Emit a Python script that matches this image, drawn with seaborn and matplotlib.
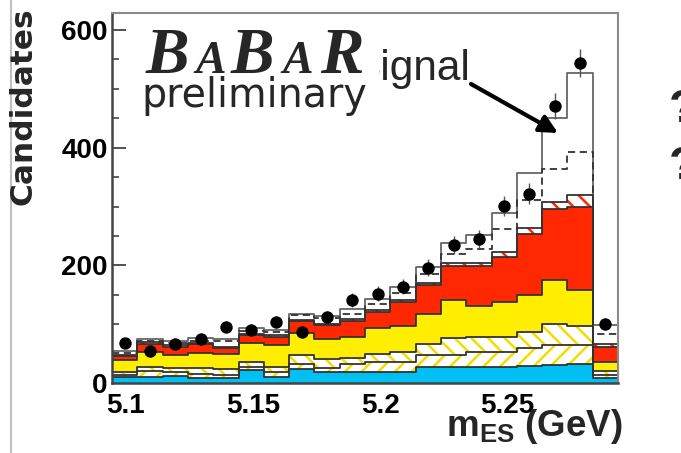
import numpy as np
import pandas as pd
import matplotlib
matplotlib.use("Agg")
import matplotlib.pyplot as plt
import seaborn as sns
from matplotlib.lines import Line2D
from matplotlib.patches import Rectangle
from matplotlib.ticker import MultipleLocator, FixedLocator

sns.set_theme(style="white")
plt.rcParams['font.family'] = ['Liberation Sans', 'DejaVu Sans']
plt.rcParams['hatch.linewidth'] = 1.8
plt.rcParams['mathtext.fontset'] = 'custom'
plt.rcParams['mathtext.bf'] = 'Liberation Sans:bold'
plt.rcParams['mathtext.rm'] = 'Liberation Sans'

# ---------------- data ----------------
n_bins = 20
x_lo, x_hi = 5.0947, 5.2933
data_counts = [68, 54, 66, 74, 96, 90, 104, 87, 112, 141,
               152, 164, 196, 234, 245, 301, 322, 471, 544, 100]
cyan_bkg   = [10, 11, 12, 8, 8, 22, 11, 23, 18, 18, 18, 18, 28, 28, 28, 28, 29, 31, 32, 9]
hatch_a    = [4, 9, 6, 7, 6, 5, 8, 9, 8, 14, 18, 18, 20, 20, 25, 25, 31, 34, 33, 5]
hatch_b    = [5, 7, 7, 10, 10, 9, 9, 16, 14, 10, 14, 16, 19, 28, 26, 26, 27, 36, 32, 6]
yellow_bkg = [20, 26, 23, 26, 26, 32, 37, 37, 35, 36, 43, 45, 51, 65, 52, 58, 63, 74, 61, 15]
red_bkg    = [7, 14, 14, 15, 10, 14, 14, 20, 23, 27, 28, 41, 49, 58, 68, 78, 103, 120, 142, 27]
red_hatch  = [2, 2, 2, 2, 2, 2, 2, 2, 2, 3, 3, 3, 3, 5, 5, 7, 10, 13, 19, 4]
dashed_bkg = [3, 2, 4, 3, 9, 4, 5, 8, 10, 9, 11, 12, 16, 15, 23, 40, 48, 55, 74, 17]
signal     = [3, 3, 4, 5, 3, 6, 4, 3, 4, 8, 7, 11, 12, 19, 24, 27, 46, 88, 134, 15]

x_major = [5.1, 5.15, 5.2, 5.25]
x_minor = [5.125, 5.175, 5.225, 5.275]
x_major_labels = ["5.1", "5.15", "5.2", "5.25"]
y_major = [0, 200, 400, 600]

# ---------------- figure ----------------
W, H = 681, 453
fig = plt.figure(figsize=(W / 100, H / 100), dpi=100)
fig.patch.set_facecolor("white")
ax = fig.add_axes([112 / W, (H - 383) / H, 506 / W, 370 / H])
ax.set_facecolor("white")

edges = np.linspace(x_lo, x_hi, n_bins + 1)
centers = 0.5 * (edges[:-1] + edges[1:])

components = [cyan_bkg, hatch_a, hatch_b, yellow_bkg, red_bkg, red_hatch, dashed_bkg, signal]
cum = np.cumsum(np.array(components, dtype=float), axis=0)

# style per cumulative layer: (facecolor, hatchcolor, hatch, line style, line color)
styles = [
    ("#00BFF3", None, None, "-", "#333333"),
    ("white", "#F5DC00", "//", "-", "#333333"),
    ("white", "#F5DC00", "\\\\", "-", "#333333"),
    ("#FFEE00", None, None, "-", "#333333"),
    ("#FF2800", None, None, "-", "#333333"),
    ("white", "#FF2800", "\\\\", "-", "#333333"),
    ("white", None, None, (0, (4, 2.5)), "#333333"),
    ("white", None, None, "-", "#666666"),
]

# draw from the top (total) down, each cumulative layer overpainting the last
for k in range(len(components) - 1, -1, -1):
    fc, hc, hatch, ls, lc = styles[k]
    df = pd.DataFrame({"mES": centers, "w": cum[k]})
    kws = dict(facecolor=fc, linewidth=0, alpha=1)
    if hatch is not None:
        kws.update(edgecolor=hc, hatch=hatch)
    else:
        kws.update(edgecolor=fc)
    sns.histplot(data=df, x="mES", weights="w", bins=n_bins, binrange=(x_lo, x_hi),
                 element="step", fill=True, ax=ax, **kws)
    sns.histplot(data=df, x="mES", weights="w", bins=n_bins, binrange=(x_lo, x_hi),
                 element="step", fill=False, ax=ax, color=lc, linewidth=1.3,
                 linestyle=ls)

# data points
data = np.array(data_counts, dtype=float)
ax.errorbar(centers, data, yerr=np.sqrt(data), fmt="none", ecolor="#555555",
            elinewidth=1.0, capsize=0, zorder=5)
pts = pd.DataFrame({"mES": centers, "n": data})
sns.scatterplot(data=pts, x="mES", y="n", ax=ax, s=80, color="black",
                edgecolor="black", linewidth=0, zorder=6)

ax.set_xlim(x_lo, x_hi)
ax.set_ylim(0, 629)
ax.set_xlabel("")
ax.set_ylabel("")

ax.xaxis.set_major_locator(FixedLocator(x_major))
ax.set_xticklabels(x_major_labels)
ax.xaxis.set_minor_locator(FixedLocator(x_minor))
ax.yaxis.set_major_locator(FixedLocator(y_major))
ax.yaxis.set_minor_locator(MultipleLocator(50))

ax.tick_params(axis="both", which="both", direction="in", colors="#444444",
               labelcolor="black", bottom=True, left=True, top=False, right=False)
ax.tick_params(axis="y", which="major", length=10, width=1.3, pad=3, labelsize=20)
ax.tick_params(axis="y", which="minor", length=5, width=1.2)
ax.tick_params(axis="x", which="major", length=8.5, width=1.3, pad=7, labelsize=20)
ax.tick_params(axis="x", which="minor", length=4.5, width=1.2)
for lab in ax.get_xticklabels() + ax.get_yticklabels():
    lab.set_fontweight("bold")

for side in ["left", "bottom"]:
    ax.spines[side].set_color("#444444")
    ax.spines[side].set_linewidth(1.8)
for side in ["top", "right"]:
    ax.spines[side].set_color("#8a8a8a")
    ax.spines[side].set_linewidth(1.5)

def px(x, y):
    return x / W, (H - y) / H

# axis titles
fig.text(*px(23, 106), "Candidates", rotation=90, ha="center", va="center",
         fontsize=22.5, fontweight="bold", family=["DejaVu Sans"])
fig.text(*px(623, 427), r"$\mathbf{m}_{\mathbf{ES}}$ (GeV)", ha="right", va="center",
         fontsize=26.5, fontweight="bold")

# Signal label + arrow
fig.text(*px(352, 80), "Signal", ha="left", va="baseline", fontsize=30.5, zorder=1)
ax.annotate("", xy=px(558, 133), xycoords="figure fraction",
            xytext=px(471, 84), textcoords="figure fraction",
            arrowprops=dict(arrowstyle="-|>,head_length=0.9,head_width=0.45",
                            color="black", lw=3, shrinkA=0, shrinkB=0),
            zorder=7)

# BaBar logo on a white panel hiding the start of "Signal"
fig.add_artist(Rectangle(px(140, 120), 239 / W, 98 / H, transform=fig.transFigure,
                         facecolor="white", edgecolor="none", zorder=10))
logo = [("B", 146, 47), ("A", 195, 33), ("B", 231, 47), ("A", 282, 33), ("R", 320, 47)]
for ch, x0, fs in logo:
    fig.text(*px(x0, 73), ch, ha="left", va="baseline", fontsize=fs,
             family=["Liberation Serif"], fontweight="bold", style="italic", zorder=11)
fig.text(*px(141, 107), "preliminary", ha="left", va="baseline", fontsize=28.5,
         family=["DejaVu Sans"], zorder=11)

# partial glyphs at the right edge and slide border on the left
fig.text(*px(669, 122), "?", ha="left", va="baseline", fontsize=34, fontweight="bold")
fig.text(*px(669, 179), "?", ha="left", va="baseline", fontsize=34, fontweight="bold")
fig.add_artist(Line2D([11 / W, 11 / W], [0, 1], transform=fig.transFigure,
                      color="#c0c0c0", lw=1.5))

fig.savefig("out.png", dpi=100)
